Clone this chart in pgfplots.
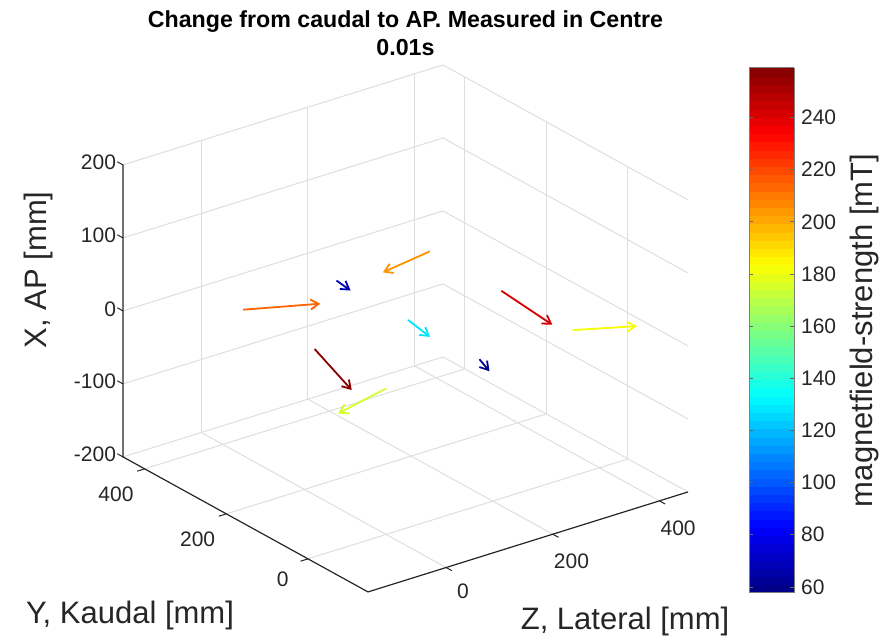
\documentclass[border=0pt]{standalone}
\usepackage{fontspec}
\setmainfont{Liberation Sans}
\usepackage{pgfplots}
\pgfplotsset{compat=1.18}
\usetikzlibrary{arrows.meta}
\definecolor{axgray}{RGB}{38,38,38}
\definecolor{gridgray}{RGB}{222,222,222}

% field vectors: position (x=lateral, y=kaudal, z=AP), vector, field strength in mT
\pgfplotstableread{
x   y   z  u      v      w  B
0   350 0  105.2  -51.3  0  214
350 350 0  -101.8 -17.9  0  205
175 350 0  -5.0   -40.8  0  68
175 175 0  -10.6  -67.7  0  128
0   175 0  -44.7  -149.1 0  257
0   0   0  -111.7 -28.4  0  175
175 0   0  -14.1  -42.9  0  60
350 175 0  -12.8  -141.6 0  242
350 0   0  85.3   -45.4  0  182
}\fielddata

\begin{document}
\begin{tikzpicture}
\begin{axis}[
  x={(0.26667pt,0.08333pt)},
  y={(-0.20417pt,0.1125pt)},
  z={(0pt,0.365pt)},
  xmin=-146.5, xmax=453.5,
  ymin=-147, ymax=453,
  zmin=-200, zmax=200,
  xtick={0,200,400}, ytick={0,200,400}, ztick={-200,-100,...,200},
  grid=major,
  major grid style={gridgray, line width=0.5pt},
  axis line style={draw=none},
  tick style={draw=none},
  tick label style={font=\fontsize{10.5}{12}\selectfont, text=axgray},
  xticklabel style={xshift=3.8pt, yshift=-4.2pt},
  yticklabel style={xshift=-7pt, yshift=-2.5pt},
  /pgf/number format/assume math mode=true,
  clip=false,
  title={Change from caudal to AP. Measured in Centre\\0.01s},
  title style={align=center, font=\bfseries\fontsize{11.6}{14}\selectfont, yshift=-5pt},
  xlabel={Z, Lateral [mm]},
  ylabel={Y, Kaudal [mm]},
  zlabel={X, AP [mm]},
  xlabel style={at={(axis cs:95.9,-459.9,-200)}, anchor=center, font=\fontsize{15.5}{18}\selectfont, text=axgray},
  ylabel style={at={(axis cs:-483.4,-4.1,-200)}, anchor=center, font=\fontsize{15.5}{18}\selectfont, text=axgray},
  zlabel style={at={(axis cs:-146.5,661.2,-7.9)}, anchor=center, rotate=0, font=\fontsize{15.5}{18}\selectfont, text=axgray},
  colormap/jet,
  point meta min=57.7, point meta max=259,
  colorbar sampled,
  colorbar style={
    at={(parent axis.north east)}, anchor=north west,
    xshift=22pt, yshift=-1.5pt,
    width=22.5pt, height=262.5pt,
    xmin=0, xmax=1, enlargelimits=false,
    samples=65,
    ytick={60,80,...,240},
    tick align=inside,
    major tick length=2pt,
    tick style={draw=axgray!70, line width=0.4pt},
    yticklabel pos=right,
    /pgf/number format/assume math mode=true,
    tick label style={font=\fontsize{10.5}{12}\selectfont, text=axgray},
    axis line style={axgray!60, line width=0.5pt},
    ylabel={magnetfield-strength [mT]},
    ylabel style={font=\fontsize{15.5}{18}\selectfont, text=axgray},
  },
]
% visible axis lines (left vertical edge, front floor edges)
\draw[axgray, line width=0.6pt]
  (axis cs:-146.5,453,200) -- (axis cs:-146.5,453,-200)
  -- (axis cs:-146.5,-147,-200) -- (axis cs:453.5,-147,-200);
% tick marks
\draw[axgray, line width=0.5pt]
  (axis cs:-146.5,453,-200) -- (axis cs:-146.5,467,-200)
  (axis cs:-146.5,453,-100) -- (axis cs:-146.5,467,-100)
  (axis cs:-146.5,453,0) -- (axis cs:-146.5,467,0)
  (axis cs:-146.5,453,100) -- (axis cs:-146.5,467,100)
  (axis cs:-146.5,453,200) -- (axis cs:-146.5,467,200)
  (axis cs:0,-147,-200) -- (axis cs:0,-161,-200)
  (axis cs:200,-147,-200) -- (axis cs:200,-161,-200)
  (axis cs:400,-147,-200) -- (axis cs:400,-161,-200)
  (axis cs:-146.5,0,-200) -- (axis cs:-160.5,0,-200)
  (axis cs:-146.5,200,-200) -- (axis cs:-160.5,200,-200)
  (axis cs:-146.5,400,-200) -- (axis cs:-160.5,400,-200);
\addplot3[
  quiver={u=\thisrow{u}, v=\thisrow{v}, w=\thisrow{w}, colored=mapped color},
  point meta=\thisrow{B},
  -{Straight Barb[length=4pt,width=5pt]},
  line width=0.9pt,
] table[x=x, y=y, z=z] {\fielddata};
\coordinate (tl) at (axis cs:698.5,1858,-200);
\coordinate (br) at (axis cs:372,-758,-200);
\end{axis}
\pgfresetboundingbox
\path[use as bounding box] (tl) rectangle (br);
\end{tikzpicture}
\end{document}
